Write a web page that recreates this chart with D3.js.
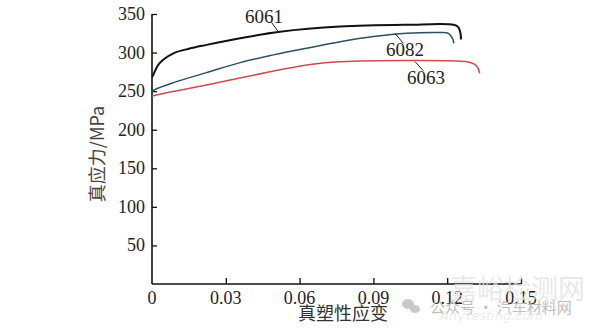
<!DOCTYPE html>
<html><head><meta charset="utf-8">
<script src="https://cdn.jsdelivr.net/npm/d3@7"></script>
<style>body{margin:0;background:#fff}svg{display:block}</style>
</head><body>
<svg id="c" width="600" height="333"></svg>
<script>
const xTicks = [0, 0.03, 0.06, 0.09, 0.12, 0.15];
const yTicks = [50, 100, 150, 200, 250, 300, 350];
const strain6061 = [0, 0.0005, 0.003, 0.0087, 0.015, 0.0222, 0.0358, 0.052, 0.0765, 0.1036, 0.1226, 0.1245, 0.1254, 0.1256];
const stress6061 = [268, 271, 286, 299, 305, 310, 318.6, 327, 333.7, 336, 336, 333, 325, 317];
const strain6082 = [0, 0.0005, 0.0087, 0.0222, 0.0358, 0.0494, 0.0629, 0.0765, 0.09, 0.1036, 0.117, 0.1205, 0.1222, 0.1227];
const stress6082 = [249, 250.8, 261, 274, 287, 297, 305.7, 314, 320.7, 325, 326, 325, 318, 312];
const strain6063 = [0, 0.0005, 0.0222, 0.0494, 0.0629, 0.0765, 0.1036, 0.128, 0.131, 0.1325, 0.1332];
const stress6063 = [243, 244, 258, 276, 284, 288, 289.7, 288, 285, 280, 273];
const seriesNames = ["6061", "6082", "6063"];
const seriesColors = ["#111111", "#2c4f63", "#cc4c4e"];
const xLabel = "真塑性应变";
const yLabel = "真应力/MPa";

const svg = d3.select("#c");
const x = d3.scaleLinear().domain([0, 0.15]).range([152, 521]);
const y = d3.scaleLinear().domain([0, 350]).range([284, 14]);
const SERIF = "Liberation Serif";
const fmtX = d => d === 0 ? "0" : d3.format(".2f")(d);

// axes (lines and ticks)
const xAxis = d3.axisBottom(x).tickValues(xTicks).tickSize(-6).tickFormat("");
const gx = svg.append("g").attr("transform", "translate(0,284)").call(xAxis);
gx.select(".domain").attr("d", `M${x(0)},0H${x(0.15)}`);
const yAxis = d3.axisLeft(y).tickValues(yTicks).tickSize(-5).tickFormat("");
const gy = svg.append("g").attr("transform", "translate(152,0)").call(yAxis);
gy.select(".domain").attr("d", `M0,${y(0)}V${y(350)}`);
[gx, gy].forEach(g => {
  g.select(".domain").attr("stroke", "#111").attr("stroke-width", 1.6);
  g.selectAll(".tick line").attr("stroke", "#111").attr("stroke-width", 1.3);
  g.selectAll(".tick text").remove();
});
gx.selectAll(".tick").filter(d => d === 0).select("line").remove();

// tick labels from scales
svg.append("g").selectAll("text").data(xTicks).join("text")
  .attr("x", d => x(d)).attr("y", 304).attr("text-anchor", "middle")
  .style("font-family", SERIF).style("font-size", "18px").attr("fill", "#222").text(fmtX);
svg.append("g").selectAll("text").data(yTicks).join("text")
  .attr("x", 145).attr("y", d => y(d) + 6).attr("text-anchor", "end")
  .style("font-family", SERIF).style("font-size", "18px").attr("fill", "#222").text(d => d);

// curves
const data = [[strain6061, stress6061], [strain6082, stress6082], [strain6063, stress6063]];
const lineB = d3.line().x(d => x(d[0])).y(d => y(d[1])).curve(d3.curveCatmullRom.alpha(0.5));
data.forEach((s, i) => {
  const pts = s[0].map((v, j) => [v, s[1][j]]);
  svg.append("path").attr("d", lineB(pts)).attr("fill", "none")
    .attr("stroke", seriesColors[i]).attr("stroke-width", i === 0 ? 2 : 1.5);
});

// labels with leaders
const labels = [
  {name: seriesNames[0], lx: 264, ly: 23, x1: 271.7, y1: 22.7, x2: 278.3, y2: 31.7},
  {name: seriesNames[1], lx: 405, ly: 56, x1: 395, y1: 33.3, x2: 403.3, y2: 43.3},
  {name: seriesNames[2], lx: 426, ly: 84, x1: 415, y1: 61.7, x2: 423.3, y2: 70.7}
];
labels.forEach(l => {
  svg.append("line").attr("x1", l.x1).attr("y1", l.y1).attr("x2", l.x2).attr("y2", l.y2)
    .attr("stroke", "#222").attr("stroke-width", 1);
  svg.append("text").attr("x", l.lx).attr("y", l.ly).attr("text-anchor", "middle")
    .style("font-family", SERIF).style("font-size", "19px").attr("fill", "#222").text(l.name);
});

// axis titles
svg.append("text").attr("x", 343).attr("y", 320).attr("text-anchor", "middle")
  .style("font-family", "Noto Sans CJK SC").style("font-size", "18px").attr("fill", "#333").text(xLabel);
svg.append("text").attr("transform", "translate(104,154) rotate(-90)").attr("text-anchor", "middle")
  .style("font-family", "Noto Sans CJK SC").style("font-size", "18px").attr("fill", "#444").text(yLabel);

// watermark
svg.append("text").attr("x", 450).attr("y", 299).style("font-family", "Noto Sans CJK SC")
  .style("font-size", "27px").attr("fill", "#e2e2e2").attr("fill-opacity", 0.8).text("嘉峪检测网");
svg.append("text").attr("x", 430).attr("y", 313).style("font-family", "Noto Sans CJK SC")
  .style("font-size", "15px").attr("fill", "#bdbdbd").text("公众号 · 汽车材料网");
svg.append("text").attr("x", 440).attr("y", 320).style("font-family", "DejaVu Sans").style("font-style", "italic")
  .style("font-size", "13px").attr("fill", "#ececec").text("AnyTesting.com");
svg.append("ellipse").attr("cx", 408).attr("cy", 304).attr("rx", 6).attr("ry", 5).attr("fill", "#c8c8c8");
svg.append("ellipse").attr("cx", 415).attr("cy", 309).attr("rx", 5).attr("ry", 4).attr("fill", "#c8c8c8");
</script>
</body></html>
